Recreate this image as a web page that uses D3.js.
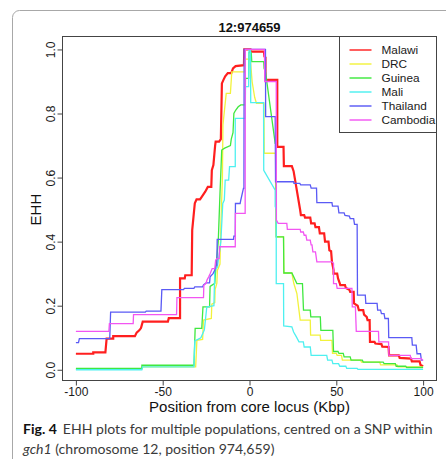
<!DOCTYPE html>
<html>
<head>
<meta charset="utf-8">
<script src="https://cdn.jsdelivr.net/npm/d3@7"></script>
<style>
  html, body { margin: 0; padding: 0; background: #fff; }
  svg { display: block; }
</style>
</head>
<body>
<svg id="chart" width="446" height="459"></svg>
<script>
// EHH decay around the core SNP, one [position (kbp), EHH] list per population
const populations = ["Malawi", "DRC", "Guinea", "Mali", "Thailand", "Cambodia"];

const malawi = [
  [-100,0.05],[-90,0.05],[-90,0.054],[-83,0.054],[-82.3,0.097],[-78.5,0.097],[-78.5,0.105],[-66,0.105],
  [-65,0.116],[-63.5,0.123],[-62.5,0.13],[-61.5,0.15],[-47,0.15],[-46.5,0.161],[-40,0.161],[-40,0.285],
  [-37.3,0.285],[-37,0.295],[-33.3,0.295],[-33,0.436],[-31.5,0.52],[-30.5,0.532],[-28.5,0.532],[-27.5,0.54],
  [-25.5,0.556],[-24,0.571],[-22,0.571],[-21.7,0.623],[-20.8,0.639],[-19.8,0.7],[-19.5,0.712],[-17.5,0.712],
  [-16.5,0.72],[-15.9,0.894],[-15,0.905],[-14,0.916],[-12.5,0.926],[-10.5,0.926],[-9.5,0.941],[-8,0.948],
  [-3.2,0.951],[-3,1.0],[0.5,1.0],[0.5,0.993],[8.3,0.993],[8.6,0.978],[9.2,0.975],[9.2,0.905],[16,0.905],
  [16,0.696],[19.6,0.696],[19.8,0.636],[24.4,0.636],[25.4,0.62],[29.2,0.498],[29.6,0.483],[31.5,0.483],
  [32,0.475],[35,0.475],[35.5,0.457],[37.5,0.457],[38,0.445],[40,0.445],[40.5,0.426],[43,0.426],[43.5,0.4],
  [45.5,0.4],[46,0.373],[47,0.37],[47.5,0.337],[48.4,0.311],[48.4,0.3],[50.5,0.3],[51,0.285],[52,0.27],
  [52.3,0.264],[55,0.264],[55.5,0.255],[57.5,0.25],[58,0.243],[60,0.243],[60.2,0.207],[62.3,0.2],[63,0.186],
  [65.5,0.186],[66,0.172],[67.5,0.165],[68,0.155],[69.2,0.155],[69.4,0.087],[72,0.087],[72.5,0.082],[76,0.08],
  [76.5,0.072],[80.1,0.071],[80.4,0.045],[86,0.045],[86.5,0.037],[93,0.035],[93.5,0.026],[98,0.026],
  [98.5,0.015],[100,0.011]
];

const drc = [
  [-100,0.001],[-62,0.001],[-61.5,0.009],[-31,0.009],[-30.3,0.092],[-27,0.095],[-26.5,0.155],[-22,0.16],
  [-21.7,0.205],[-20,0.21],[-19.8,0.25],[-18.8,0.27],[-18.5,0.31],[-17,0.33],[-16.5,0.45],[-15.6,0.6],
  [-15.3,0.764],[-13.4,0.863],[-11,0.863],[-10.2,0.93],[-2.8,0.93],[-2.6,0.97],[0.5,0.97],[1.5,0.9],
  [3,0.85],[4,0.832],[8.3,0.832],[8.5,0.676],[15,0.676],[15.4,0.415],[19.6,0.415],[19.8,0.302],[24.4,0.302],
  [25.5,0.27],[27.3,0.238],[29.2,0.155],[35,0.155],[35.2,0.108],[40.7,0.108],[41,0.092],[47.5,0.092],
  [47.8,0.051],[50,0.051],[50.5,0.045],[53,0.045],[53.5,0.03],[64,0.03],[64.5,0.024],[75,0.024],
  [75.5,0.015],[85,0.015],[85.5,0.009],[100,0.009]
];

const guinea = [
  [-100,0.004],[-62,0.004],[-62,0.014],[-32,0.014],[-31.3,0.129],[-27.5,0.129],[-26.8,0.196],[-23,0.196],
  [-22.7,0.26],[-20,0.27],[-19.5,0.31],[-18,0.4],[-17,0.55],[-16,0.686],[-14.3,0.692],[-11,0.7],[-10.5,0.72],
  [-9.5,0.74],[-9,0.8],[-8,0.81],[-6.5,0.821],[-5,0.827],[-2.5,0.827],[-2.3,0.91],[-0.5,0.91],[-0.3,0.99],
  [1,0.99],[1.3,0.962],[8.2,0.962],[8.4,0.941],[9.2,0.93],[14.8,0.707],[15.2,0.707],[15.4,0.415],[19.6,0.415],
  [19.8,0.302],[24.4,0.302],[27.3,0.269],[30.5,0.269],[31.1,0.186],[35,0.186],[35.3,0.165],[40.8,0.165],
  [41.1,0.123],[48,0.123],[48.4,0.057],[51,0.057],[51.5,0.051],[54,0.051],[54.5,0.04],[58,0.04],[58.5,0.03],
  [65,0.03],[65.5,0.024],[77,0.024],[77.5,0.019],[84,0.019],[84.5,0.011],[90,0.011],[90.5,0.007],[100,0.007]
];

const mali = [
  [-100,0.0],[-62,0.0],[-61.5,0.009],[-32,0.009],[-31.5,0.09],[-28,0.1],[-26,0.125],[-24.6,0.196],
  [-20.5,0.2],[-20,0.311],[-18.5,0.32],[-17.4,0.363],[-16.5,0.4],[-15.4,0.519],[-14.5,0.53],[-14,0.592],
  [-12,0.592],[-11.5,0.634],[-8.2,0.634],[-8.2,0.785],[-2.5,0.785],[-2.3,0.884],[-0.5,0.884],[-0.3,0.998],
  [0.6,0.998],[0.7,0.834],[8.1,0.834],[8.2,0.623],[14.8,0.561],[14.8,0.51],[15.4,0.5],[15.4,0.269],
  [19.6,0.269],[19.7,0.137],[24.4,0.134],[25.4,0.118],[27,0.1025],[28.5,0.087],[31,0.087],[31.5,0.071],
  [35,0.071],[35.5,0.045],[44.5,0.045],[45,0.03],[47.5,0.03],[48,0.019],[51.3,0.019],[52,0.011],[55.5,0.011],
  [56,0.004],[62,0.004],[62.5,0.001],[100,0.001]
];

const thailand = [
  [-100,0.085],[-98.5,0.085],[-98,0.097],[-80.5,0.097],[-80,0.18],[-60,0.18],[-59.5,0.183],[-51,0.183],
  [-50.5,0.25],[-38,0.25],[-37.5,0.254],[-32,0.254],[-31.5,0.259],[-27,0.259],[-26.5,0.265],[-25,0.271],
  [-23,0.271],[-22.7,0.29],[-21,0.3],[-20,0.311],[-19.2,0.327],[-18.8,0.327],[-18.6,0.407],[-9.2,0.407],
  [-9,0.417],[-8.2,0.417],[-8.1,0.519],[-5.4,0.519],[-5,0.53],[-3.5,0.566],[-3.2,0.566],[-3.1,1.0],
  [9.2,1.0],[9.3,0.79],[14.8,0.79],[15,0.587],[25.4,0.587],[25.6,0.582],[29,0.582],[29.5,0.577],[35,0.577],
  [35.5,0.567],[38.6,0.567],[38.8,0.522],[47.5,0.522],[47.8,0.511],[51,0.511],[51.5,0.49],[54.5,0.49],
  [55,0.482],[57.5,0.48],[58,0.472],[60,0.472],[60.5,0.454],[62,0.454],[62.2,0.233],[66.7,0.233],
  [67,0.207],[73.5,0.207],[73.8,0.186],[75.5,0.186],[76,0.175],[77.5,0.175],[78,0.16],[80,0.16],[80.2,0.1],
  [93.5,0.1],[93.8,0.077],[96,0.077],[96.5,0.05],[98.5,0.05],[99,0.03],[100,0.03]
];

const cambodia = [
  [-100,0.12],[-81,0.12],[-80.7,0.144],[-67,0.144],[-66.8,0.172],[-42,0.172],[-41.8,0.225],[-26.5,0.225],
  [-26.3,0.264],[-25,0.27],[-24.5,0.28],[-23.5,0.29],[-22.7,0.3],[-21.5,0.316],[-20,0.316],[-19.5,0.342],
  [-18.8,0.347],[-17.5,0.347],[-17.2,0.384],[-8.2,0.384],[-8.1,0.488],[-2.5,0.488],[-2.4,1.0],[8.6,1.0],
  [8.8,0.9],[15.4,0.9],[15.5,0.467],[16.5,0.457],[21.5,0.457],[21.8,0.438],[29.2,0.438],[29.5,0.43],
  [31,0.43],[31.5,0.42],[32.5,0.42],[33,0.405],[35,0.405],[35.5,0.39],[36,0.39],[36.5,0.368],[38,0.368],
  [38.8,0.337],[47.5,0.337],[48.4,0.332],[48.4,0.269],[50,0.269],[50.5,0.254],[59,0.254],[59.2,0.196],
  [61,0.196],[61.5,0.12],[74.3,0.12],[74.5,0.087],[80.1,0.087],[80.3,0.045],[92.6,0.045],[93,0.035],
  [99,0.035],[99.5,0.03],[100,0.03]
];

const seriesValues = [malawi, drc, guinea, mali, thailand, cambodia];
const xTicks = [-100, -50, 0, 50, 100];
const yTicks = [0.0, 0.2, 0.4, 0.6, 0.8, 1.0];
const chartTitle = "12:974659";
const xLabel = "Position from core locus (Kbp)";
const yLabel = "EHH";

// line appearance per population
const lineColors = ["#ff1f1f", "#f2f23c", "#3fe83f", "#4ef0f0", "#5a5af5", "#f255f2"];
const lineWidths = [2.2, 1.3, 1.3, 1.3, 1.3, 1.3];

const svg = d3.select("#chart");
const axisGrey = "#444";
const axisFont = "'Liberation Sans', Arial, Helvetica, sans-serif";

// figure panel frame (only its top-left corner falls inside the page)
svg.append("rect")
  .attr("x", 12.5).attr("y", 10.5)
  .attr("width", 480).attr("height", 480)
  .attr("rx", 7).attr("ry", 7)
  .attr("fill", "none").attr("stroke", "#a8a8a8").attr("stroke-width", 1);

const plotLeft = 62, plotRight = 437, plotTop = 36, plotBottom = 380;

const x = d3.scaleLinear().domain([-108, 108]).range([plotLeft, plotRight]);
const y = d3.scaleLinear().domain([-0.032, 1.042]).range([plotBottom, plotTop]);

// curves
const line = d3.line().x(d => x(d[0])).y(d => y(d[1]));
const curves = svg.append("g").attr("class", "curves");
seriesValues.forEach((vals, i) => {
  curves.append("path")
    .datum(vals)
    .attr("d", line)
    .attr("fill", "none")
    .attr("stroke", lineColors[i])
    .attr("stroke-width", lineWidths[i])
    .attr("stroke-linejoin", "miter")
    .attr("stroke-linecap", "butt");
});

// plot box
svg.append("rect")
  .attr("x", plotLeft + 0.5).attr("y", plotTop + 0.5)
  .attr("width", plotRight - plotLeft - 1).attr("height", plotBottom - plotTop)
  .attr("fill", "none").attr("stroke", axisGrey).attr("stroke-width", 1);

// x axis
const xAxis = svg.append("g")
  .attr("transform", `translate(0,${plotBottom + 0.5})`)
  .call(d3.axisBottom(x).tickValues(xTicks).tickSize(5).tickPadding(2).tickFormat(d3.format("d")));
xAxis.select(".domain").remove();
xAxis.selectAll("line").attr("stroke", axisGrey);
xAxis.selectAll("text")
  .attr("fill", "#1a1a1a").attr("font-family", axisFont).attr("font-size", 12)
  .text(d => d < 0 ? "-" + Math.abs(d) : d);

// y axis with labels turned to read upwards
const yAxis = svg.append("g")
  .attr("transform", `translate(${plotLeft + 0.5},0)`)
  .call(d3.axisLeft(y).tickValues(yTicks).tickSize(5).tickFormat(d3.format(".1f")));
yAxis.select(".domain").remove();
yAxis.selectAll("line").attr("stroke", axisGrey);
yAxis.selectAll("text")
  .attr("fill", "#1a1a1a").attr("font-family", axisFont).attr("font-size", 12)
  .attr("x", 0).attr("y", -8).attr("dy", 0)
  .attr("text-anchor", "middle")
  .attr("transform", "rotate(-90)");

// title and axis titles
svg.append("text")
  .attr("x", x(0)).attr("y", 31.5)
  .attr("text-anchor", "middle")
  .attr("font-family", axisFont).attr("font-weight", "bold").attr("font-size", 13)
  .attr("fill", "#111")
  .text(chartTitle);

svg.append("text")
  .attr("x", x(0)).attr("y", 412)
  .attr("text-anchor", "middle")
  .attr("font-family", axisFont).attr("font-size", 15)
  .attr("fill", "#111")
  .text(xLabel);

svg.append("text")
  .attr("transform", `translate(41,${y(0.5)}) rotate(-90)`)
  .attr("text-anchor", "middle")
  .attr("font-family", axisFont).attr("font-size", 15)
  .attr("fill", "#111")
  .text(yLabel);

// legend
const legendLeft = 339.5, legendTop = 36.5, legendRowH = 14;
svg.append("rect")
  .attr("x", legendLeft).attr("y", legendTop)
  .attr("width", plotRight - 0.5 - legendLeft).attr("height", 96)
  .attr("fill", "#fff").attr("stroke", axisGrey).attr("stroke-width", 1);
const legendRows = svg.append("g").selectAll("g")
  .data(populations)
  .join("g")
  .attr("transform", (d, i) => `translate(${legendLeft},${legendTop + 13.5 + i * legendRowH})`);
legendRows.append("line")
  .attr("x1", 10).attr("x2", 32).attr("y1", 0).attr("y2", 0)
  .attr("stroke", (d, i) => lineColors[i]).attr("stroke-width", 1.8).attr("stroke-opacity", 0.8);
legendRows.append("text")
  .attr("x", 42).attr("y", 4.3)
  .attr("font-family", axisFont).attr("font-size", 11.8)
  .attr("fill", "#1a1a1a")
  .text(d => d);

// figure caption
const captionFont = "Lato, 'Open Sans', 'Noto Sans', sans-serif";
const cap1 = svg.append("text")
  .attr("x", 23).attr("y", 434)
  .attr("font-family", captionFont).attr("font-size", 15).attr("fill", "#3a3a3a");
cap1.append("tspan").attr("font-weight", "bold").attr("fill", "#111").text("Fig. 4");
cap1.append("tspan").attr("dx", 6).text("EHH plots for multiple populations, centred on a SNP within");
const cap2 = svg.append("text")
  .attr("x", 23).attr("y", 454)
  .attr("font-family", captionFont).attr("font-size", 15).attr("fill", "#3a3a3a");
cap2.append("tspan").attr("font-style", "italic").text("gch1");
cap2.append("tspan").text(" (chromosome 12, position 974,659)");

// fit the first caption line to the panel text width
const w1 = cap1.node().getComputedTextLength();
const captionSize = 15 * 404 / w1;
cap1.attr("font-size", captionSize);
cap2.attr("font-size", captionSize);
</script>
</body>
</html>
